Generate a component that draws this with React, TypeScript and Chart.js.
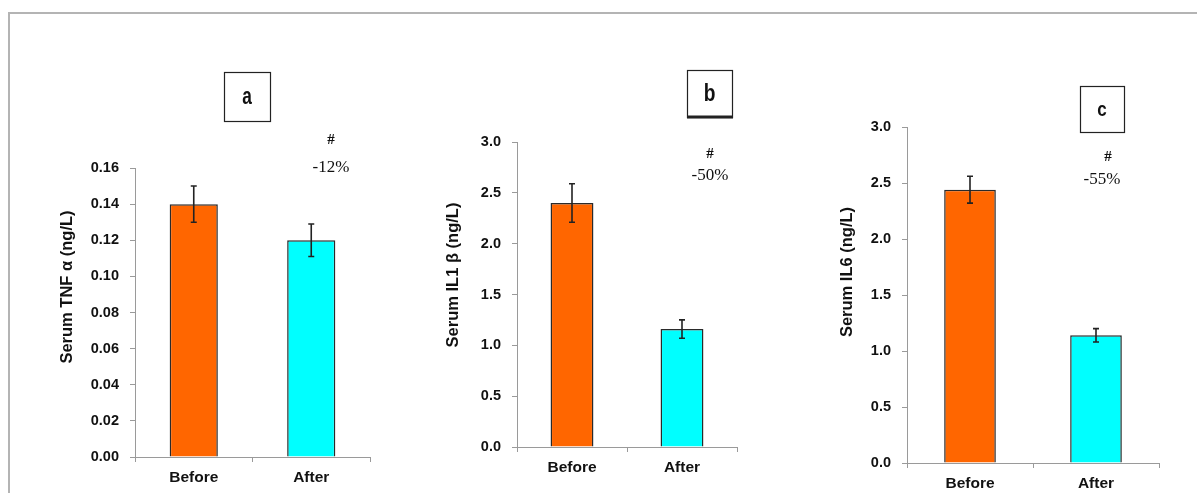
import React, { useEffect, useRef } from 'react';
import { Chart, registerables } from 'chart.js';

Chart.register(...registerables);

// ---------- data ----------
const categories = ['Before', 'After'];

const tnfValues = [0.14, 0.12];
const tnfErrors = [0.01, 0.009];

const il1Values = [2.4, 1.16];
const il1Errors = [0.19, 0.09];

const il6Values = [2.44, 1.14];
const il6Errors = [0.12, 0.06];

const yTitles = ['Serum TNF α (ng/L)', 'Serum IL1 β (ng/L)', 'Serum IL6 (ng/L)'];
const panelLetters = ['a', 'b', 'c'];
const changeLabels = ['-12%', '-50%', '-55%'];
const significanceMarks = ['#', '#', '#'];

const yMaxes = [0.16, 3.0, 3.0];
const ySteps = [0.02, 0.5, 0.5];
const yDecimals = [2, 1, 1];

const panelValues = [tnfValues, il1Values, il6Values];
const panelErrors = [tnfErrors, il1Errors, il6Errors];

// ---------- layout / style ----------
const PAGE_W = 1197;
const PAGE_H = 493;
const Y_W = 100;
const X_H = 30;
const SANS = '"Liberation Sans", Arial, sans-serif';
const SERIF = '"Liberation Serif", "Times New Roman", serif';
const AXIS_COLOR = '#9a9a9a';
const BAR_COLORS = ['#FF6600', '#00FFFF'];

const layouts = [
  {
    area: { left: 135, right: 370, top: 168, bottom: 457 },
    title: { x: 67, y: 287 },
    box: { x: 224, y: 72, w: 46, h: 49, thickBottom: false },
    hash: { x: 331, y: 140 },
    pct: { x: 331, y: 168 },
    barFrac: 0.41,
    letterSize: 24,
    letterScaleX: 0.72,
  },
  {
    area: { left: 517, right: 737, top: 142, bottom: 447 },
    title: { x: 453, y: 275 },
    box: { x: 687, y: 70, w: 45, h: 47, thickBottom: true },
    hash: { x: 710, y: 154 },
    pct: { x: 710, y: 176 },
    barFrac: 0.39,
    letterSize: 24,
    letterScaleX: 0.8,
  },
  {
    area: { left: 907, right: 1159, top: 127, bottom: 463 },
    title: { x: 847, y: 272 },
    box: { x: 1080, y: 86, w: 44, h: 46, thickBottom: false },
    hash: { x: 1108, y: 157 },
    pct: { x: 1102, y: 180 },
    barFrac: 0.41,
    letterSize: 20,
    letterScaleX: 0.85,
  },
];

function makePanelPlugin(i: number) {
  return {
    id: 'panelDecor' + i,
    afterDatasetsDraw(chart: any) {
      const ctx = chart.ctx;
      const meta = chart.getDatasetMeta(0);
      const yScale = chart.scales.y;
      const vals = panelValues[i];
      const errs = panelErrors[i];
      ctx.save();
      ctx.strokeStyle = '#222';
      ctx.lineWidth = 1.6;
      meta.data.forEach((el: any, k: number) => {
        const x = el.x;
        const yt = yScale.getPixelForValue(vals[k] + errs[k]);
        const yb = yScale.getPixelForValue(vals[k] - errs[k]);
        ctx.beginPath();
        ctx.moveTo(x, yt);
        ctx.lineTo(x, yb);
        ctx.moveTo(x - 3, yt);
        ctx.lineTo(x + 3, yt);
        ctx.moveTo(x - 3, yb);
        ctx.lineTo(x + 3, yb);
        ctx.stroke();
      });
      ctx.restore();
    },
    afterDraw(chart: any) {
      const ctx = chart.ctx;
      const L = layouts[i];
      ctx.save();
      // y-axis title
      ctx.translate(L.title.x, L.title.y);
      ctx.rotate(-Math.PI / 2);
      ctx.fillStyle = '#111';
      ctx.font = `bold 16.5px ${SANS}`;
      ctx.textAlign = 'center';
      ctx.textBaseline = 'middle';
      ctx.fillText(yTitles[i], 0, 0);
      ctx.restore();

      // letter box
      ctx.save();
      const b = L.box;
      ctx.strokeStyle = '#222';
      ctx.lineWidth = 1.2;
      ctx.strokeRect(b.x + 0.5, b.y + 0.5, b.w, b.h);
      if (b.thickBottom) {
        ctx.lineWidth = 3;
        ctx.beginPath();
        ctx.moveTo(b.x, b.y + b.h);
        ctx.lineTo(b.x + b.w + 1, b.y + b.h);
        ctx.stroke();
      }
      ctx.fillStyle = '#111';
      ctx.font = `bold ${L.letterSize}px ${SANS}`;
      ctx.textAlign = 'center';
      ctx.textBaseline = 'middle';
      ctx.save();
      ctx.translate(b.x + b.w / 2, b.y + b.h / 2 + 1);
      ctx.scale(L.letterScaleX, 1);
      ctx.fillText(panelLetters[i], 0, 0);
      ctx.restore();

      // significance + change
      ctx.font = `bold 15px ${SERIF}`;
      ctx.fillText(significanceMarks[i], L.hash.x, L.hash.y);
      ctx.font = `17px ${SERIF}`;
      ctx.fillText(changeLabels[i], L.pct.x, L.pct.y);
      ctx.restore();
    },
  };
}

function Panel({ index }: { index: number }) {
  const ref = useRef<HTMLCanvasElement | null>(null);
  useEffect(() => {
    const canvas = ref.current;
    if (!canvas) return;
    const L = layouts[index];
    const chart = new Chart(canvas, {
      type: 'bar',
      data: {
        labels: categories,
        datasets: [
          {
            data: panelValues[index],
            backgroundColor: BAR_COLORS,
            borderColor: '#2a2a2a',
            borderWidth: 1.5,
            barPercentage: L.barFrac,
            categoryPercentage: 1,
          },
        ],
      },
      options: {
        animation: false,
        responsive: false,
        maintainAspectRatio: false,
        devicePixelRatio: 1,
        events: [],
        layout: {
          padding: {
            left: L.area.left - Y_W,
            right: PAGE_W - L.area.right,
            top: L.area.top,
            bottom: PAGE_H - L.area.bottom - X_H,
          },
        },
        plugins: {
          legend: { display: false },
          tooltip: { enabled: false },
          title: { display: false },
        },
        scales: {
          x: {
            offset: true,
            grid: {
              offset: true,
              drawOnChartArea: false,
              drawTicks: true,
              tickLength: 5,
              color: AXIS_COLOR,
            },
            border: { color: AXIS_COLOR, width: 1 },
            ticks: {
              font: { family: SANS, size: 15.5, weight: 'bold' },
              color: '#111',
              padding: 6,
              maxRotation: 0,
            },
            afterFit: (s: any) => {
              s.height = X_H;
            },
          },
          y: {
            min: 0,
            max: yMaxes[index],
            grid: {
              drawOnChartArea: false,
              drawTicks: true,
              tickLength: 5,
              color: AXIS_COLOR,
            },
            border: { color: AXIS_COLOR, width: 1 },
            ticks: {
              stepSize: ySteps[index],
              callback: (v: any) => Number(v).toFixed(yDecimals[index]),
              font: { family: SANS, size: 14.5, weight: 'bold' },
              color: '#111',
              padding: 11,
            },
            afterFit: (s: any) => {
              s.width = Y_W;
            },
          },
        },
      } as any,
      plugins: [makePanelPlugin(index)],
    });
    return () => chart.destroy();
  }, [index]);
  return (
    <canvas
      ref={ref}
      width={PAGE_W}
      height={PAGE_H}
      style={{ position: 'absolute', left: 0, top: 0, width: PAGE_W, height: PAGE_H }}
    />
  );
}

export default function App() {
  return (
    <div
      style={{
        position: 'fixed',
        left: 0,
        top: 0,
        width: PAGE_W,
        height: PAGE_H,
        background: '#ffffff',
        overflow: 'hidden',
      }}
    >
      <div
        style={{
          position: 'absolute',
          left: 8,
          top: 12,
          width: PAGE_W - 8,
          height: PAGE_H,
          borderTop: '2px solid #b4b4b4',
          borderLeft: '2px solid #b4b4b4',
          boxSizing: 'border-box',
        }}
      />
      {[0, 1, 2].map((i) => (
        <Panel key={i} index={i} />
      ))}
    </div>
  );
}
